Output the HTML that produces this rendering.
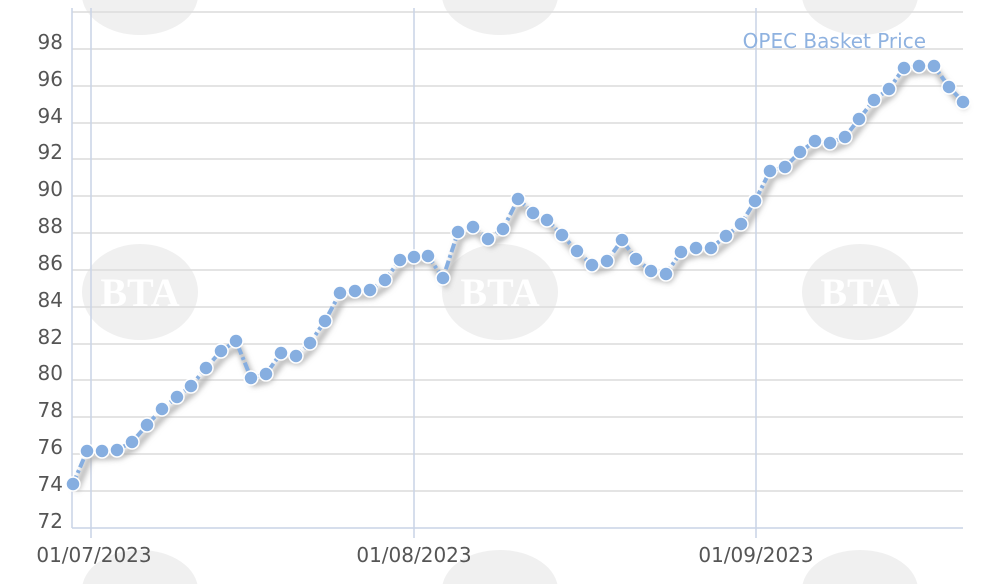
<!DOCTYPE html>
<html><head><meta charset="utf-8"><style>
html,body{margin:0;padding:0;background:#fff;width:1000px;height:584px;overflow:hidden}
svg{display:block}
</style></head><body>
<svg width="1000" height="584" viewBox="0 0 1000 584" xmlns="http://www.w3.org/2000/svg" font-family="DejaVu Sans, sans-serif">
<defs><filter id="sh" x="-10%" y="-10%" width="120%" height="130%"><feGaussianBlur stdDeviation="3"/></filter></defs>
<g fill="#f0f0f0">
<ellipse cx="140" cy="292" rx="58" ry="48"/><ellipse cx="500" cy="292" rx="58" ry="48"/><ellipse cx="860" cy="292" rx="58" ry="48"/>
<ellipse cx="140" cy="-5" rx="58" ry="40"/><ellipse cx="500" cy="-5" rx="58" ry="40"/><ellipse cx="860" cy="-5" rx="58" ry="40"/>
<ellipse cx="140" cy="590" rx="58" ry="40"/><ellipse cx="500" cy="590" rx="58" ry="40"/><ellipse cx="860" cy="590" rx="58" ry="40"/>
</g>
<g fill="#fff" font-size="40" font-weight="bold" font-family="Liberation Serif, serif" text-anchor="middle">
<text x="140" y="306">BTA</text><text x="500" y="306">BTA</text><text x="860" y="306">BTA</text>
</g>
<g stroke="#dcdcdc" stroke-width="1.5">
<line x1="72" y1="12" x2="963" y2="12"/>
<line x1="72" y1="49" x2="963" y2="49"/><line x1="72" y1="86" x2="963" y2="86"/>
<line x1="72" y1="123" x2="963" y2="123"/><line x1="72" y1="159" x2="963" y2="159"/>
<line x1="72" y1="196" x2="963" y2="196"/><line x1="72" y1="233" x2="963" y2="233"/>
<line x1="72" y1="270" x2="963" y2="270"/><line x1="72" y1="307" x2="963" y2="307"/>
<line x1="72" y1="344" x2="963" y2="344"/><line x1="72" y1="380" x2="963" y2="380"/>
<line x1="72" y1="417" x2="963" y2="417"/><line x1="72" y1="454" x2="963" y2="454"/>
<line x1="72" y1="491" x2="963" y2="491"/>
</g>
<g stroke="#c9d3e6" stroke-width="1.5">
<line x1="72" y1="8" x2="72" y2="528"/><line x1="72" y1="528" x2="963" y2="528"/>
<line x1="91" y1="8" x2="91" y2="538"/><line x1="414" y1="8" x2="414" y2="538"/><line x1="756" y1="8" x2="756" y2="538"/>
</g>
<g fill="#555" font-size="20" text-anchor="end">
<text x="63" y="49">98</text><text x="63" y="86">96</text><text x="63" y="123">94</text><text x="63" y="159">92</text>
<text x="63" y="196">90</text><text x="63" y="233">88</text><text x="63" y="270">86</text><text x="63" y="307">84</text>
<text x="63" y="344">82</text><text x="63" y="380">80</text><text x="63" y="417">78</text><text x="63" y="454">76</text>
<text x="63" y="491">74</text><text x="63" y="528">72</text>
</g>
<g fill="#555" font-size="20" text-anchor="middle">
<text x="94" y="562">01/07/2023</text><text x="414" y="562">01/08/2023</text><text x="756" y="562">01/09/2023</text>
</g>
<text x="926" y="48" fill="#8fb2e0" font-size="20" text-anchor="end">OPEC Basket Price</text>
<polyline fill="none" stroke="#aaa" stroke-width="5" filter="url(#sh)" transform="translate(3,6)" points="73,484 87,451 102,451 117,450 132,442 147,425 162,409 177,397 191,386 206,368 221,351 236,341 251,378 266,374 281,353 296,356 310,343 325,321 340,293 355,291 370,290 385,280 400,260 414,257 428,256 443,278 458,232 473,227 488,239 503,229 518,199 533,213 547,220 562,235 577,251 592,265 607,261 622,240 636,259 651,271 666,274 681,252 696,248 711,248 726,236 741,224 755,201 770,171 785,167 800,152 815,141 830,143 845,137 859,119 874,100 889,89 904,68 919,66 934,66 949,87 963,102"/>
<polyline fill="none" stroke="#86aee0" stroke-width="4" stroke-dasharray="9,3,3,3" points="73,484 87,451 102,451 117,450 132,442 147,425 162,409 177,397 191,386 206,368 221,351 236,341 251,378 266,374 281,353 296,356 310,343 325,321 340,293 355,291 370,290 385,280 400,260 414,257 428,256 443,278 458,232 473,227 488,239 503,229 518,199 533,213 547,220 562,235 577,251 592,265 607,261 622,240 636,259 651,271 666,274 681,252 696,248 711,248 726,236 741,224 755,201 770,171 785,167 800,152 815,141 830,143 845,137 859,119 874,100 889,89 904,68 919,66 934,66 949,87 963,102"/>
<g fill="#86aee0" stroke="#fff" stroke-width="1.5">
<circle cx="73" cy="484" r="7"/><circle cx="87" cy="451" r="7"/><circle cx="102" cy="451" r="7"/><circle cx="117" cy="450" r="7"/><circle cx="132" cy="442" r="7"/><circle cx="147" cy="425" r="7"/><circle cx="162" cy="409" r="7"/><circle cx="177" cy="397" r="7"/><circle cx="191" cy="386" r="7"/><circle cx="206" cy="368" r="7"/><circle cx="221" cy="351" r="7"/><circle cx="236" cy="341" r="7"/><circle cx="251" cy="378" r="7"/><circle cx="266" cy="374" r="7"/><circle cx="281" cy="353" r="7"/><circle cx="296" cy="356" r="7"/><circle cx="310" cy="343" r="7"/><circle cx="325" cy="321" r="7"/><circle cx="340" cy="293" r="7"/><circle cx="355" cy="291" r="7"/><circle cx="370" cy="290" r="7"/><circle cx="385" cy="280" r="7"/><circle cx="400" cy="260" r="7"/><circle cx="414" cy="257" r="7"/><circle cx="428" cy="256" r="7"/><circle cx="443" cy="278" r="7"/><circle cx="458" cy="232" r="7"/><circle cx="473" cy="227" r="7"/><circle cx="488" cy="239" r="7"/><circle cx="503" cy="229" r="7"/><circle cx="518" cy="199" r="7"/><circle cx="533" cy="213" r="7"/><circle cx="547" cy="220" r="7"/><circle cx="562" cy="235" r="7"/><circle cx="577" cy="251" r="7"/><circle cx="592" cy="265" r="7"/><circle cx="607" cy="261" r="7"/><circle cx="622" cy="240" r="7"/><circle cx="636" cy="259" r="7"/><circle cx="651" cy="271" r="7"/><circle cx="666" cy="274" r="7"/><circle cx="681" cy="252" r="7"/><circle cx="696" cy="248" r="7"/><circle cx="711" cy="248" r="7"/><circle cx="726" cy="236" r="7"/><circle cx="741" cy="224" r="7"/><circle cx="755" cy="201" r="7"/><circle cx="770" cy="171" r="7"/><circle cx="785" cy="167" r="7"/><circle cx="800" cy="152" r="7"/><circle cx="815" cy="141" r="7"/><circle cx="830" cy="143" r="7"/><circle cx="845" cy="137" r="7"/><circle cx="859" cy="119" r="7"/><circle cx="874" cy="100" r="7"/><circle cx="889" cy="89" r="7"/><circle cx="904" cy="68" r="7"/><circle cx="919" cy="66" r="7"/><circle cx="934" cy="66" r="7"/><circle cx="949" cy="87" r="7"/><circle cx="963" cy="102" r="7"/>
</g>
</svg>
</body></html>
